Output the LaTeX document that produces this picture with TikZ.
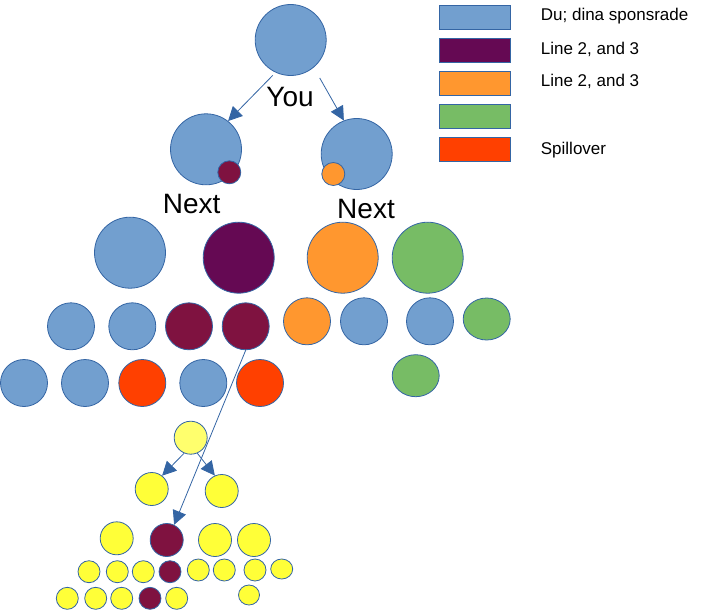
\documentclass[tikz,border=0pt]{standalone}
\usepackage{fontspec}
\setmainfont{Liberation Sans}
\usetikzlibrary{shapes,arrows.meta,positioning}

\definecolor{skyblue}{HTML}{729FCF}
\definecolor{edgeblue}{HTML}{3465A4}
\definecolor{plum}{HTML}{650953}
\definecolor{wine}{HTML}{7F1240}
\definecolor{tangerine}{HTML}{FF972F}
\definecolor{leaf}{HTML}{77BC65}
\definecolor{spill}{HTML}{FF4000}
\definecolor{lemon}{HTML}{FFFF38}
\definecolor{paleyellow}{HTML}{FFFF6D}

\begin{document}
\begin{tikzpicture}[x=1pt, y=-1pt,
    ball/.style={circle, draw=edgeblue, line width=0.8pt, inner sep=0pt},
    big/.style={ball, minimum size=71pt},
    mid/.style={ball, minimum size=47pt},
    small/.style={ball, minimum size=33pt},
    tiny/.style={ball, minimum size=22pt},
    dot/.style={ball, minimum size=23pt},
    oval/.style={ellipse, draw=edgeblue, line width=0.8pt, inner sep=0pt},
    keybox/.style={rectangle, draw=edgeblue, line width=0.8pt, minimum width=71pt, minimum height=24pt},
    keytext/.style={anchor=west, inner sep=0pt, font=\fontsize{17}{20}\selectfont},
    title/.style={font=\fontsize{28}{33}\selectfont},
    arrow/.style={-{Triangle[length=14pt,width=14pt]}, draw=edgeblue, line width=0.8pt}
]
    \useasboundingbox (0,0) rectangle (717,610);

    % top of the tree
    \node[big, fill=skyblue] (you) at (290.7,40) {};
    \node[big, fill=skyblue] (nextL) at (206,149.3) {};
    \node[dot, fill=wine] (dotL) at (229.3,172.3) {};
    \node[big, fill=skyblue] (nextR) at (356.7,154) {};
    \node[dot, fill=tangerine] (dotR) at (333.3,174) {};
    \node[title] (youlabel) at (290,97) {You};
    \node[title] (nextlabelL) at (191.7,204) {Next};
    \node[title] (nextlabelR) at (366,209.3) {Next};

    % second line
    \node[big, fill=skyblue] (g1) at (130,252.7) {};
    \node[big, fill=plum] (g2) at (238.7,257.7) {};
    \node[big, fill=tangerine] (g3) at (342.7,257.7) {};
    \node[big, fill=leaf] (g4) at (427.7,257.7) {};

    % third line
    \node[mid, fill=skyblue] (m1) at (71,326.3) {};
    \node[mid, fill=skyblue] (m2) at (132.3,326.3) {};
    \node[mid, fill=wine] (m3) at (189,326.3) {};
    \node[mid, fill=wine] (m4) at (245.7,326.3) {};
    \node[mid, fill=tangerine] (m5) at (307,321.3) {};
    \node[mid, fill=skyblue] (m6) at (364,321.3) {};
    \node[mid, fill=skyblue] (m7) at (430,321.3) {};
    \node[oval, fill=leaf, minimum width=47pt, minimum height=42pt] (m8) at (486.7,319) {};

    % fourth line
    \node[mid, fill=skyblue] (n1) at (24,383) {};
    \node[mid, fill=skyblue] (n2) at (85,383) {};
    \node[mid, fill=spill] (n3) at (142.3,383) {};
    \node[mid, fill=skyblue] (n4) at (203.3,383) {};
    \node[mid, fill=spill] (n5) at (260,383) {};
    \node[oval, fill=leaf, minimum width=47pt, minimum height=42pt] (n6) at (415.7,375.7) {};

    % yellow tree
    \node[small, fill=paleyellow] (ytop) at (190.7,437.7) {};
    \node[small, fill=lemon] (yl) at (151.7,489) {};
    \node[small, fill=lemon] (yr) at (221.7,491) {};
    \node[small, fill=lemon] (y1) at (116.7,538.3) {};
    \node[small, fill=wine] (ym) at (166.7,540) {};
    \node[small, fill=lemon] (y3) at (215,540) {};
    \node[small, fill=lemon] (y4) at (254,540) {};

    \node[tiny, fill=lemon] (s1) at (89,571.7) {};
    \node[tiny, fill=lemon] (s2) at (117.3,571.7) {};
    \node[tiny, fill=lemon] (s3) at (143.3,571.7) {};
    \node[tiny, fill=wine] (s4) at (170,571.7) {};
    \node[tiny, fill=lemon] (s5) at (198.3,570) {};
    \node[tiny, fill=lemon] (s6) at (224.3,570) {};
    \node[tiny, fill=lemon] (s7) at (255,570) {};
    \node[oval, fill=lemon, minimum width=22pt, minimum height=20pt] (s8) at (281.7,569) {};

    \node[tiny, fill=lemon] (t1) at (67.3,598.3) {};
    \node[tiny, fill=lemon] (t2) at (95.7,598.3) {};
    \node[tiny, fill=lemon] (t3) at (121.7,598.3) {};
    \node[tiny, fill=wine] (t4) at (150,598.3) {};
    \node[tiny, fill=lemon] (t5) at (176.7,598.3) {};
    \node[oval, fill=lemon, minimum width=21pt, minimum height=20pt] (t6) at (249,595) {};

    % legend
    \node[keybox, fill=skyblue] (key1) at (475,17) {};
    \node[keybox, fill=plum] (key2) at (475,50.2) {};
    \node[keybox, fill=tangerine] (key3) at (475,83) {};
    \node[keybox, fill=leaf] (key4) at (475,116.3) {};
    \node[keybox, fill=spill] (key5) at (475,149) {};
    \node[keytext] (keytext1) at (540.7,16) {Du; dina sponsrade};
    \node[keytext] (keytext2) at (540.7,49.3) {Line 2, and 3};
    \node[keytext] (keytext3) at (540.7,81.7) {Line 2, and 3};
    \node[keytext] (keytext5) at (540.7,150) {Spillover};

    \draw[arrow, shorten <=4pt] (you.245) -- (nextL.52);
    \draw[arrow, shorten <=12pt] (you.310) -- (nextR.111);
    \draw[arrow] (m4.south) -- (ym.64);
    \draw[arrow] (ytop.247) -- (yl.52);
    \draw[arrow] (ytop.293) -- (yr.114);
\end{tikzpicture}
\end{document}
